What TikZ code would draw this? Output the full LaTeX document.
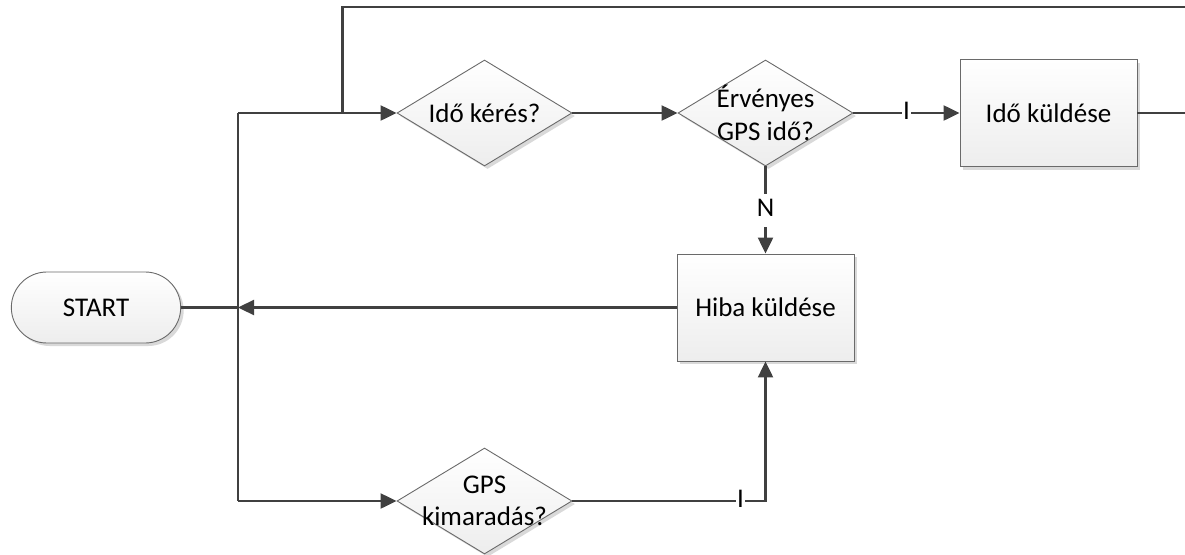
\documentclass[tikz,border=0pt]{standalone}
\usepackage{fontspec}
\setmainfont{Carlito}
\usetikzlibrary{shapes.geometric,shapes.misc,arrows.meta,shadows}
\definecolor{linegray}{HTML}{404040}
\definecolor{edgegray}{HTML}{6A6A6A}
\begin{document}
\begin{tikzpicture}[x=1pt,y=-1pt,
  every node/.style={font=\fontsize{27}{32.5}\selectfont},
  shapebase/.style={draw=edgegray, line width=0.9pt, top color=white, bottom color=black!7,
    drop shadow={shadow xshift=3pt, shadow yshift=-3pt, fill=black!25, opacity=0.6}},
  process/.style={shapebase, rectangle, minimum width=177pt, minimum height=107pt, inner sep=0pt},
  decision/.style={shapebase, diamond, minimum width=175pt, minimum height=106pt, inner sep=0pt},
  terminal/.style={shapebase, rounded rectangle, minimum width=176pt, minimum height=71pt},
  dtext/.style={align=center, inner sep=0pt},
  flow/.style={draw=linegray, line width=2.3pt},
  arrowflow/.style={flow, -{Triangle[length=16pt,width=15pt]}},
  lbl/.style={fill=white, inner xsep=1.5pt, inner ysep=3pt, text height=20pt, text depth=7pt, text=black}
]
\clip (0,0) rectangle (1185,554);

% shapes
\node[terminal] (start) at (96,307.5) {START};
\node[decision] (d1) at (484.5,113) {};
\node[dtext] (d1t) at (d1) {Idő kérés?};
\node[decision] (d2) at (765.5,113) {};
\node[dtext] (d2t) at (d2) {Érvényes\\GPS idő?};
\node[process] (send) at (1048.5,113) {Idő küldése};
\node[process] (err) at (765.5,307.5) {Hiba küldése};
\node[decision] (d3) at (484.5,501) {};
\node[dtext] (d3t) at (d3) {GPS\\kimaradás?};

% junction points on the left bus and the return loop
\coordinate (jtop) at (238,113);
\coordinate (jmid) at (238,307.5);
\coordinate (jbot) at (238,501);
\coordinate (loopdrop) at (342.5,113);
\coordinate (looptop) at (342.5,7);
\coordinate (offright) at (1192,7);

% connectors
\draw[flow] (jtop) -- (jbot);
\draw[flow] (start.east) -- (jmid);
\draw[arrowflow] (err.west) -- (jmid);
\draw[arrowflow] (jtop) -- (d1.west);
\draw[arrowflow] (jbot) -- (d3.west);
\draw[arrowflow] (d1.east) -- (d2.west);
\draw[arrowflow] (d2.east) -- node[lbl] (lblI1) {I} (send.west);
\draw[arrowflow] (d2.south) -- node[lbl] (lblN) {N} (err.north);
\draw[arrowflow] (d3.east) -- node[lbl, pos=0.87] (lblI2) {I} (d3.east -| err.south) -- (err.south);
\draw[flow] (send.east) -- (send.east -| offright) -- (offright) -- (looptop) -- (loopdrop);
\end{tikzpicture}
\end{document}
